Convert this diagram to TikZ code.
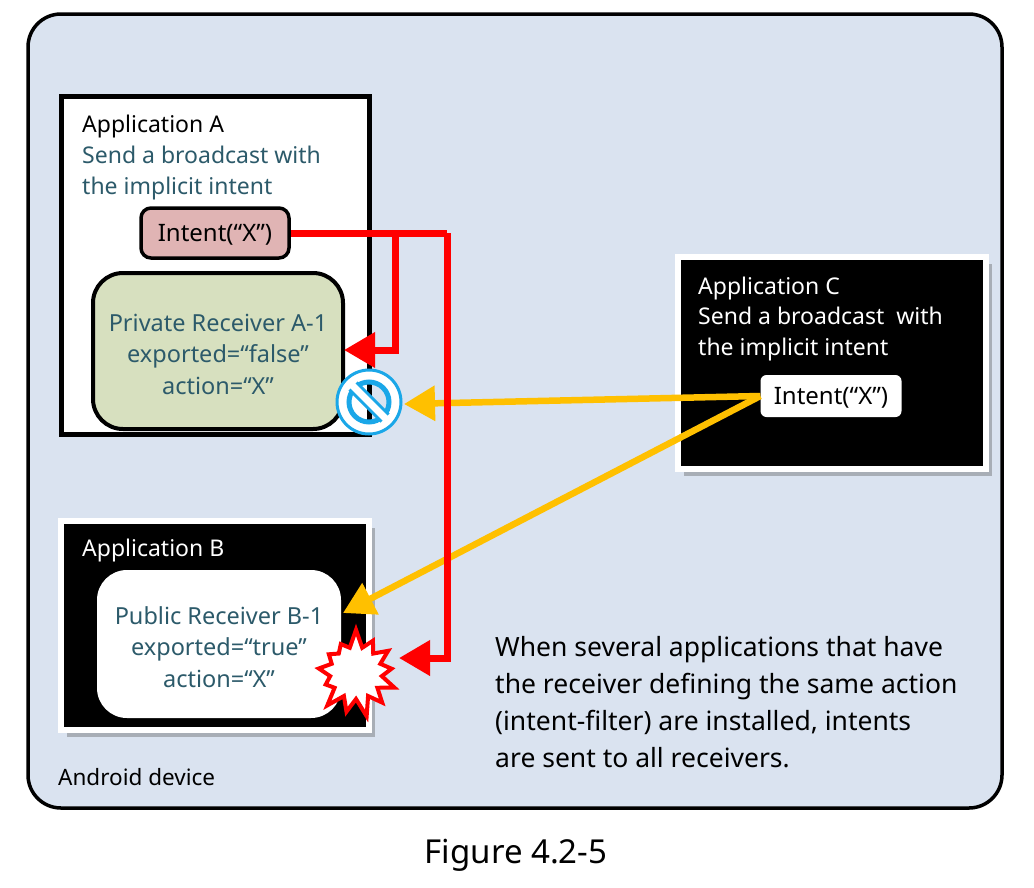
\documentclass[tikz,border=0pt]{standalone}
\usepackage{fontspec}
\setmainfont{Noto Sans}
\usetikzlibrary{arrows.meta}
\usetikzlibrary{positioning}
\usetikzlibrary{shadows}
\usetikzlibrary{shapes.symbols}
\definecolor{deviceblue}{HTML}{DAE3F0}
\definecolor{tealtext}{HTML}{2C5A6A}
\definecolor{intentpink}{HTML}{E0B4B4}
\definecolor{receivergreen}{HTML}{D7E0BF}
\definecolor{intentyellow}{HTML}{FFC000}
\definecolor{denyblue}{HTML}{1AA7E8}
\tikzset{
        >={Triangle[length=31pt,width=34pt]},
        boxtext/.style={font=\fontsize{23}{31}\selectfont, align=left, anchor=west, inner sep=0pt},
        recvtext/.style={font=\fontsize{23.5}{31.5}\selectfont, align=center, text=tealtext, inner sep=0pt},
        intenttext/.style={font=\fontsize{24}{26}\selectfont, inner sep=0pt, text depth=0pt},
        appshadow/.style={drop shadow={shadow xshift=6pt, shadow yshift=-7pt, fill=black!70, opacity=.35}},
        darkapp/.style={draw=white, fill=black, line width=6pt, inner sep=0pt, appshadow},
        redline/.style={color=red, line width=7pt},
        yellowline/.style={color=intentyellow, line width=6.5pt},
}

\begin{document}
\begin{tikzpicture}[x=1pt, y=-1pt]
        \useasboundingbox (0,0) rectangle (1034,887);
        \node [draw, fill=deviceblue, line width=3.5pt, rounded corners=33pt, minimum width=974pt, minimum height=794pt, inner sep=0pt] (Device) at (515,411) {};
        \node [boxtext, font=\fontsize{22.5}{26}\selectfont] (DeviceLabel) at (58,777) {Android device};
        \node [boxtext, font=\fontsize{33}{38}\selectfont, anchor=center] (Caption) at (516,855) {Figure 4.2-5};

        % application A
        \node [draw, fill=white, line width=5pt, minimum width=308pt, minimum height=338pt, inner sep=0pt] (AppA) at (215,265) {};
        \node [boxtext] (AppATitle) at (82,127) {Application A};
        \node [boxtext, below=7pt of AppATitle.south west, anchor=north west, text=tealtext] (AppAText) {Send a broadcast with\\the implicit intent};
        \node [draw, fill=intentpink, line width=3.5pt, rounded corners=10pt, minimum width=148pt, minimum height=50pt, intenttext] (IntentA) at (215,233) {Intent(“X”)};
        \node [draw, fill=receivergreen, line width=4pt, rounded corners=30pt, minimum width=250pt, minimum height=156pt, inner sep=0pt] (ReceiverA) at (218,351) {};
        \node [recvtext] (ReceiverAText) at (218,354) {Private Receiver A-1\\exported=“false”\\action=“X”};

        % application B
        \node [darkapp, minimum width=308pt, minimum height=209pt] (AppB) at (215,625.5) {};
        \node [boxtext, text=white] (AppBTitle) at (82,551) {Application B};
        \node [fill=white, rounded corners=30pt, minimum width=244pt, minimum height=148pt, inner sep=0pt] (ReceiverB) at (219,644) {};
        \node [recvtext] (ReceiverBText) at (219,647) {Public Receiver B-1\\exported=“true”\\action=“X”};

        % application C
        \node [darkapp, minimum width=308pt, minimum height=212pt] (AppC) at (831.5,363) {};
        \node [boxtext, text=white] (AppCTitle) at (698,289) {Application C};
        \node [boxtext, below=6.5pt of AppCTitle.south west, anchor=north west, text=white] (AppCText) {Send a broadcast\ \ with\\the implicit intent};
        \node [fill=white, rounded corners=6pt, minimum width=141pt, minimum height=42pt, intenttext] (IntentC) at (831,396) {Intent(“X”)};

        \node [boxtext, font=\fontsize{26.5}{37}\selectfont] (NoteText) at (495,702) {When several applications that have\\the receiver defining the same action\\(intent-filter) are installed, intents\\are sent to all receivers.};

        % free ends and corners of the connectors
        \coordinate (BranchTop) at (395,233);
        \coordinate (BranchEnd) at (344,350);
        \coordinate (MainTop) at (447,233);
        \coordinate (HitB) at (399,658);
        \coordinate (DenyEnd) at (404,404);
        \coordinate (PublicEnd) at (343,613);

        \node [draw=red, fill=white, line width=4pt, starburst, starburst points=13, starburst point height=19pt, random starburst=7, minimum width=90pt, minimum height=90pt, inner sep=0pt] (Burst) at (356,673) {};

        \draw [yellowline, ->] (IntentC.west)--(DenyEnd);
        \draw [yellowline, ->] (IntentC.west)--(PublicEnd);
        \draw [redline] (IntentA.east)--(MainTop);
        \draw [redline, ->] (BranchTop)|-(BranchEnd);
        \draw [redline, ->] (MainTop)|-(HitB);

        % deny sign over the receiver corner
        \node [circle, minimum size=66pt, inner sep=0pt] (Deny) at (369,402) {};
        \fill [white, even odd rule] (Deny.center) circle (33) (Deny.center) circle (21);
        \draw [denyblue, line width=3pt] (Deny.center) circle (32);
        \draw [denyblue, line width=5pt] (Deny.center) circle (20);
        \draw [denyblue, line width=13pt] (Deny.center) ++(-16,-16)--+(32,32);
        \draw [white, line width=7pt] (Deny.center) ++(-21,-21)--+(42,42);
\end{tikzpicture}
\end{document}
